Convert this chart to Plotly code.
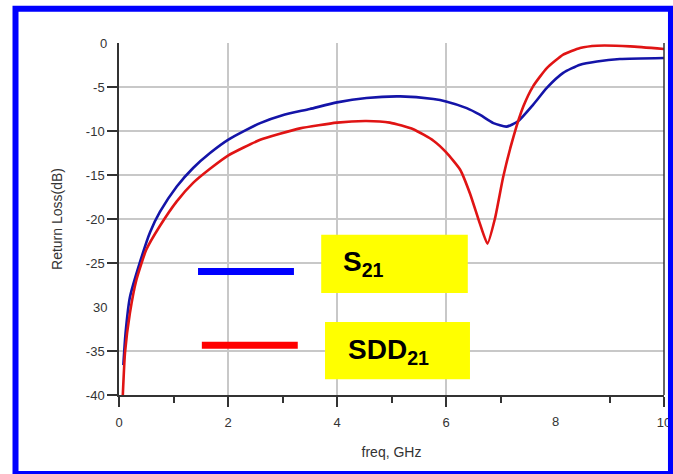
import plotly.graph_objects as go

# ---- data ----
freq_s21 = [0.08, 0.12, 0.2, 0.39, 0.57, 0.75, 1.06, 1.36, 1.67, 2.0, 2.59, 3.0, 3.5, 4.0,
            4.54, 5.16, 5.77, 6.0, 6.38, 6.62, 6.87, 7.11, 7.32, 7.6, 7.85, 8.15, 8.46,
            8.77, 9.19, 10.0]
s21_db = [-36.6, -33.0, -28.9, -24.8, -21.5, -19.2, -16.3, -14.2, -12.5, -11.0, -9.1, -8.2,
          -7.5, -6.75, -6.25, -6.07, -6.37, -6.64, -7.4, -8.15, -9.1, -9.5, -8.9, -7.0, -5.1,
          -3.4, -2.47, -2.1, -1.82, -1.7]

freq_sdd21 = [0.07, 0.11, 0.2, 0.32, 0.5, 0.75, 1.06, 1.36, 1.67, 2.0, 2.59, 3.32, 4.0, 4.54,
              4.97, 5.4, 5.77, 6.0, 6.26, 6.44, 6.62, 6.76, 6.9, 7.05, 7.24, 7.42, 7.6, 7.85,
              8.15, 8.46, 8.77, 9.38, 10.0]
sdd21_db = [-40.0, -35.2, -30.7, -26.9, -23.5, -20.8, -18.0, -15.9, -14.3, -12.8, -11.0, -9.7,
            -9.05, -8.87, -9.05, -9.8, -11.1, -12.4, -14.4, -17.1, -20.5, -22.8, -19.9, -15.2,
            -10.6, -7.2, -4.9, -2.85, -1.33, -0.57, -0.31, -0.38, -0.68]

x_tick_vals = [0, 2, 4, 6, 10]
x_tick_text = ["0", "2", "4", "6", "10"]
x_extra_label = (8, "8")
x_minor_vals = [1, 3, 5, 7, 9]
y_tick_vals = [-5, -10, -15, -20, -25, -35, -40]
y_tick_text = ["-5", "-10", "-15", "-20", "-25", "-35", "-40"]
y_extra_labels = [(0, "0"), (-30, "30")]

legend_names = ["S<sub>21</sub>", "SDD<sub>21</sub>"]

FONT = "Arial, 'Liberation Sans', sans-serif"
LABEL_COLOR = "#333333"

fig = go.Figure()
fig.add_trace(go.Scatter(x=freq_s21, y=s21_db, mode="lines",
                         line=dict(color="#1414a8", width=2.6, shape="spline", smoothing=0.6),
                         showlegend=False, hoverinfo="skip"))
fig.add_trace(go.Scatter(x=freq_sdd21, y=sdd21_db, mode="lines",
                         line=dict(color="#e01414", width=2.6, shape="spline", smoothing=0.5),
                         showlegend=False, hoverinfo="skip"))

shapes = []
# custom legend: coloured line samples and yellow boxes
shapes.append(dict(type="line", xref="x", yref="y", x0=1.45, x1=3.21, y0=-25.98, y1=-25.98,
                   line=dict(color="#0000ff", width=7)))
shapes.append(dict(type="rect", xref="x", yref="y", x0=3.71, x1=6.40, y0=-28.4, y1=-21.8,
                   fillcolor="#ffff00", line=dict(width=0)))
shapes.append(dict(type="line", xref="x", yref="y", x0=1.52, x1=3.28, y0=-34.36, y1=-34.36,
                   line=dict(color="#ff0000", width=7)))
shapes.append(dict(type="rect", xref="x", yref="y", x0=3.78, x1=6.44, y0=-38.2, y1=-31.7,
                   fillcolor="#ffff00", line=dict(width=0)))
# blue frame round the whole picture
shapes.append(dict(type="rect", xref="paper", yref="paper", x0=-0.1899, x1=1.0128,
                   y0=-0.2245, y1=1.0975, line=dict(color="#0000ff", width=6),
                   fillcolor="rgba(0,0,0,0)", layer="above"))
# right-hand border line of the plot area
shapes.append(dict(type="line", xref="paper", yref="paper", x0=1, x1=1, y0=0, y1=1,
                   line=dict(color="#333333", width=1.5)))

annotations = []
annotations.append(dict(x=4.07, y=-25.1, xref="x", yref="y", text="<b>" + legend_names[0] + "</b>",
                        showarrow=False, xanchor="left", yanchor="middle",
                        font=dict(family=FONT, size=28, color="#000000")))
annotations.append(dict(x=4.17, y=-35.0, xref="x", yref="y", text="<b>" + legend_names[1] + "</b>",
                        showarrow=False, xanchor="left", yanchor="middle",
                        font=dict(family=FONT, size=28, color="#000000")))
for yv, txt in y_extra_labels:
    annotations.append(dict(x=0, y=yv, xref="paper", yref="y", text=txt, showarrow=False,
                            xanchor="right", yanchor="middle", xshift=-10,
                            font=dict(family=FONT, size=13, color=LABEL_COLOR)))
annotations.append(dict(x=x_extra_label[0], y=0, xref="x", yref="paper", text=x_extra_label[1],
                        showarrow=False, xanchor="center", yanchor="top", yshift=-17,
                        font=dict(family=FONT, size=13, color=LABEL_COLOR)))

fig.update_layout(
    width=673, height=474,
    margin=dict(l=119, r=9, t=43, b=79, autoexpand=False),
    paper_bgcolor="white", plot_bgcolor="white",
    font=dict(family=FONT, size=13, color=LABEL_COLOR),
    shapes=shapes, annotations=annotations,
    xaxis=dict(range=[0, 10], tickmode="array", tickvals=x_tick_vals, ticktext=x_tick_text,
               ticks="outside", ticklen=10, tickwidth=1.5, tickcolor="#333333",
               ticklabelstandoff=5,
               showline=True, linecolor="#333333", linewidth=1.5, mirror=False,
               showgrid=True, gridcolor="#c8c8c8", gridwidth=1.5, zeroline=False,
               automargin=False,
               minor=dict(tickvals=x_minor_vals, ticks="outside", ticklen=6, tickwidth=1.5,
                          tickcolor="#333333", showgrid=False),
               title=dict(text="freq, GHz", font=dict(family=FONT, size=14, color=LABEL_COLOR),
                          standoff=18)),
    yaxis=dict(range=[-40, 0], tickmode="array", tickvals=y_tick_vals, ticktext=y_tick_text,
               ticks="outside", ticklen=10, tickwidth=1.5, tickcolor="#333333",
               showline=True, linecolor="#333333", linewidth=1.5,
               showgrid=True, gridcolor="#c8c8c8", gridwidth=1.5, zeroline=False,
               automargin=False,
               title=dict(text="Return Loss(dB)", font=dict(family=FONT, size=14, color=LABEL_COLOR),
                          standoff=20)),
)

fig.write_html("out.html", config={"displayModeBar": False},
               post_script="document.body.style.margin='0px';document.body.style.overflow='hidden';")
